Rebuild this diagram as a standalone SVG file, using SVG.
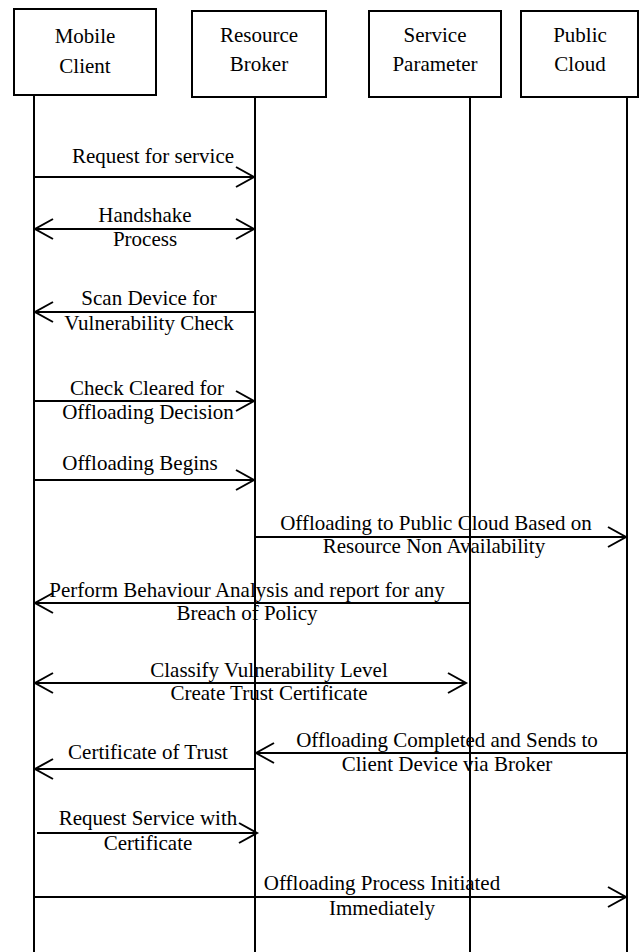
<svg xmlns="http://www.w3.org/2000/svg" width="640" height="952" viewBox="0 0 640 952">
<style>
.box{fill:#fff;stroke:#000;stroke-width:2}
.life{stroke:#000;stroke-width:2;fill:none}
.msg{stroke:#000;stroke-width:2;fill:none}
.t{font-family:'Liberation Serif','Times New Roman',Tinos,'DejaVu Serif',serif;font-size:21px;fill:#000;text-anchor:middle}
</style>
<defs>
<marker id="ah" markerUnits="userSpaceOnUse" markerWidth="24" markerHeight="24" viewBox="-20 -12 24 24" refX="0" refY="0" orient="auto-start-reverse">
<path d="M-18,-10 L0,0 L-18,10" fill="none" stroke="#000" stroke-width="2"/>
</marker>
</defs>
<rect width="640" height="952" fill="#fff"/>
<g id="lifelines">
<line class="life" x1="34" y1="95" x2="34" y2="952"/>
<line class="life" x1="255" y1="97" x2="255" y2="952"/>
<line class="life" x1="470" y1="97" x2="470" y2="952"/>
<line class="life" x1="627" y1="97" x2="627" y2="952"/>
</g>
<g font-family="Liberation Serif, Times New Roman, serif" font-size="21" text-anchor="middle" fill="#000">
<g id="mobile-client">
<rect class="box" x="14" y="9" width="142" height="86"/>
<text class="t" x="85" y="43">Mobile</text>
<text class="t" x="85" y="73">Client</text>
</g>
<g id="resource-broker">
<rect class="box" x="192" y="11" width="134" height="86"/>
<text class="t" x="259" y="42">Resource</text>
<text class="t" x="259" y="71">Broker</text>
</g>
<g id="service-parameter">
<rect class="box" x="369" y="11" width="132" height="86"/>
<text class="t" x="435" y="42">Service</text>
<text class="t" x="435" y="71">Parameter</text>
</g>
<g id="public-cloud">
<rect class="box" x="521" y="11" width="117" height="86"/>
<text class="t" x="580" y="42">Public</text>
<text class="t" x="580" y="71">Cloud</text>
</g>
</g>
<g id="connectors">
<line class="msg" x1="34" y1="177" x2="254" y2="177" marker-end="url(#ah)"/>
<line class="msg" x1="35" y1="229" x2="254" y2="229" marker-start="url(#ah)" marker-end="url(#ah)"/>
<line class="msg" x1="255" y1="312" x2="35" y2="312" marker-end="url(#ah)"/>
<line class="msg" x1="34" y1="401" x2="254" y2="401" marker-end="url(#ah)"/>
<line class="msg" x1="34" y1="480" x2="254" y2="480" marker-end="url(#ah)"/>
<line class="msg" x1="255" y1="537" x2="626" y2="537" marker-end="url(#ah)"/>
<line class="msg" x1="470" y1="603" x2="35" y2="603" marker-end="url(#ah)"/>
<line class="msg" x1="35" y1="683" x2="466" y2="683" marker-start="url(#ah)" marker-end="url(#ah)"/>
<line class="msg" x1="627" y1="753" x2="256" y2="753" marker-end="url(#ah)"/>
<line class="msg" x1="255" y1="769" x2="35" y2="769" marker-end="url(#ah)"/>
<line class="msg" x1="37" y1="833" x2="257" y2="833" marker-end="url(#ah)"/>
<line class="msg" x1="34" y1="897" x2="626" y2="897" marker-end="url(#ah)"/>
</g>
<g id="labels" font-family="Liberation Serif, Times New Roman, serif" font-size="21" text-anchor="middle" fill="#000">
<text class="t" x="153" y="163">Request for service</text>
<text class="t" x="145" y="222">Handshake</text>
<text class="t" x="145" y="246">Process</text>
<text class="t" x="149" y="305">Scan Device for</text>
<text class="t" x="149" y="330">Vulnerability Check</text>
<text class="t" x="147" y="395">Check Cleared for</text>
<text class="t" x="148" y="419">Offloading Decision</text>
<text class="t" x="140" y="470">Offloading Begins</text>
<text class="t" x="436" y="530">Offloading to Public Cloud Based on</text>
<text class="t" x="434" y="553">Resource Non Availability</text>
<text class="t" x="247" y="597">Perform Behaviour Analysis and report for any</text>
<text class="t" x="247" y="620">Breach of Policy</text>
<text class="t" x="269" y="677">Classify Vulnerability Level</text>
<text class="t" x="269" y="700">Create Trust Certificate</text>
<text class="t" x="447" y="747">Offloading Completed and Sends to</text>
<text class="t" x="447" y="771">Client Device via Broker</text>
<text class="t" x="148" y="759">Certificate of Trust</text>
<text class="t" x="148" y="825">Request Service with</text>
<text class="t" x="148" y="850">Certificate</text>
<text class="t" x="382" y="890">Offloading Process Initiated</text>
<text class="t" x="382" y="915">Immediately</text>
</g>
</svg>
